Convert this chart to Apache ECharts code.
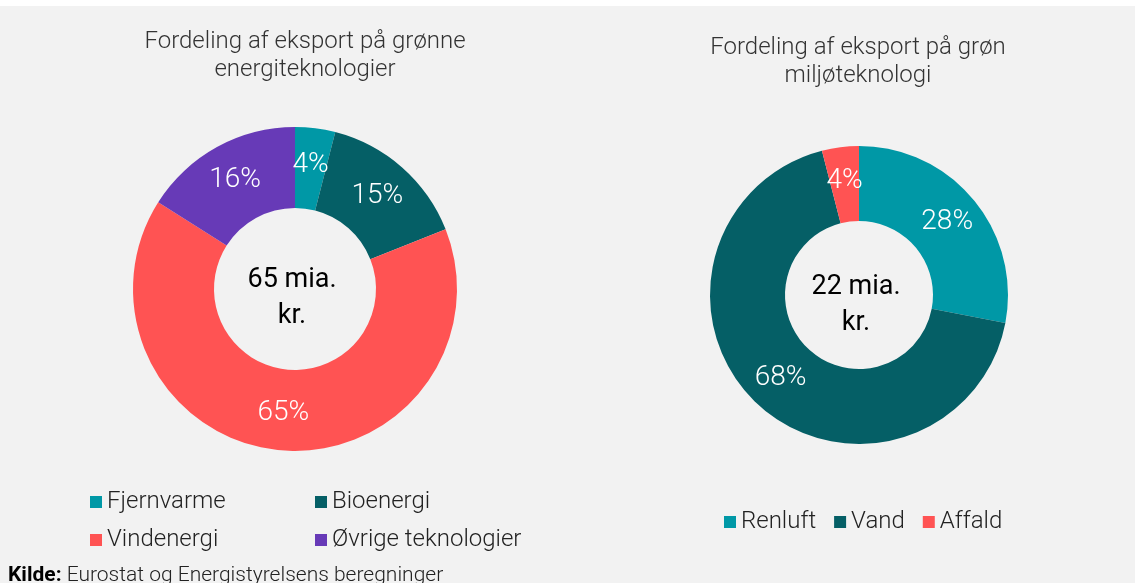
<!DOCTYPE html>
<html>
<head>
<meta charset="utf-8">
<script src="https://cdn.jsdelivr.net/npm/echarts@6/dist/echarts.min.js"></script>
<style>
  html, body { margin: 0; padding: 0; background: #f2f2f2; }
  #MyChart { width: 1135px; height: 583px; }
</style>
</head>
<body>
<div id="MyChart"></div>
<script>
// venstre: grønne energiteknologier
const energiNavne = ['Fjernvarme', 'Bioenergi', 'Vindenergi', 'Øvrige teknologier']
const energiAndele = [4, 15, 65, 16]
const energiFarver = ['#0098a6', '#055f66', '#ff5353', '#673ab7']

// højre: grøn miljøteknologi
const miljoNavne = ['Renluft', 'Vand', 'Affald']
const miljoAndele = [28, 68, 4]
const miljoFarver = ['#0098a6', '#055f66', '#ff5353']

const font = 'Roboto, "Noto Sans", sans-serif'

function toData(names, values, colors) {
  let out = []
  for (let i = 0; i < names.length; i++) {
    out.push({ name: names[i], value: values[i], itemStyle: { color: colors[i] } })
  }
  return out
}

const legendStyle = {
  orient: 'vertical',
  icon: 'rect',
  itemWidth: 12,
  itemHeight: 12,
  itemGap: 14,
  textStyle: { fontFamily: font, fontSize: 24, color: '#222', fontWeight: 300 }
}

let myChart = echarts.init(document.getElementById('MyChart'))
let option = {
  backgroundColor: '#f2f2f2',
  animation: false,
  title: [
    {
      text: 'Fordeling af eksport på grønne\nenergiteknologier',
      left: 300, top: 23, textAlign: 'center',
      textStyle: { fontFamily: font, fontSize: 24, fontWeight: 300, color: '#333', lineHeight: 28 }
    },
    {
      text: 'Fordeling af eksport på grøn\nmiljøteknologi',
      left: 853, top: 29, textAlign: 'center',
      textStyle: { fontFamily: font, fontSize: 24, fontWeight: 300, color: '#333', lineHeight: 28 }
    }
  ],
  legend: [
    Object.assign({}, legendStyle, { left: 85, top: 485, data: [energiNavne[0], energiNavne[2]] }),
    Object.assign({}, legendStyle, { left: 310, top: 485, data: [energiNavne[1], energiNavne[3]] }),
    Object.assign({}, legendStyle, { orient: 'horizontal', left: 719, top: 505, itemGap: 18, data: miljoNavne })
  ],
  graphic: [
    { type: 'rect', left: 0, top: 0, shape: { width: 1135, height: 6 }, style: { fill: '#ffffff' } },
    {
      type: 'text', left: 8, top: 565,
      style: {
        text: '{b|Kilde:} Eurostat og Energistyrelsens beregninger',
        fontFamily: font, fontSize: 21, fontWeight: 300, fill: '#222',
        rich: {
          b: { fontFamily: font, fontSize: 21, fontWeight: 'bold', fill: '#000' }
        }
      }
    }
  ],
  series: [
    {
      type: 'pie',
      center: [295, 289],
      radius: [81, 162],
      startAngle: 90,
      clockwise: true,
      avoidLabelOverlap: false,
      label: {
        show: true, position: 'inside', formatter: '{c}%',
        fontFamily: font, fontSize: 28, fontWeight: 300, color: '#fff'
      },
      labelLine: { show: false },
      emphasis: { disabled: true },
      data: toData(energiNavne, energiAndele, energiFarver)
    },
    {
      type: 'pie',
      center: [859, 295],
      radius: [74, 149],
      startAngle: 90,
      clockwise: true,
      avoidLabelOverlap: false,
      label: {
        show: true, position: 'inside', formatter: '{c}%',
        fontFamily: font, fontSize: 28, fontWeight: 300, color: '#fff'
      },
      labelLine: { show: false },
      emphasis: { disabled: true },
      data: toData(miljoNavne, miljoAndele, miljoFarver)
    },
    {
      type: 'pie', center: [292, 298], radius: [0, 0], silent: true,
      label: {
        show: true, position: 'center', formatter: '65 mia.\nkr.',
        fontFamily: font, fontSize: 27, color: '#000', lineHeight: 36
      },
      data: [{ value: 1, name: 'sum1' }]
    },
    {
      type: 'pie', center: [856, 305], radius: [0, 0], silent: true,
      label: {
        show: true, position: 'center', formatter: '22 mia.\nkr.',
        fontFamily: font, fontSize: 27, color: '#000', lineHeight: 36
      },
      data: [{ value: 1, name: 'sum2' }]
    }
  ]
}
myChart.setOption(option)
</script>
</body>
</html>
